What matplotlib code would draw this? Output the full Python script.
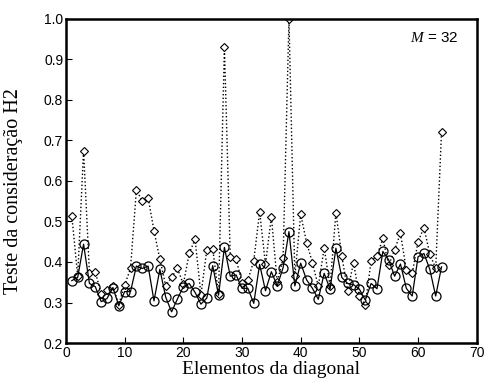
import matplotlib
matplotlib.use("Agg")
import matplotlib.pyplot as plt
import numpy as np

elements = list(range(1, 65))
circles = [0.354, 0.362, 0.444, 0.347, 0.339, 0.302, 0.310, 0.337, 0.292, 0.327,
           0.327, 0.390, 0.384, 0.390, 0.304, 0.382, 0.313, 0.277, 0.309, 0.339,
           0.347, 0.325, 0.296, 0.311, 0.391, 0.318, 0.436, 0.365, 0.368, 0.335,
           0.335, 0.298, 0.394, 0.329, 0.376, 0.341, 0.386, 0.475, 0.341, 0.397,
           0.356, 0.335, 0.308, 0.372, 0.333, 0.434, 0.362, 0.347, 0.344, 0.333,
           0.306, 0.347, 0.334, 0.426, 0.405, 0.365, 0.395, 0.335, 0.316, 0.413,
           0.421, 0.382, 0.316, 0.388]
diamonds = [0.514, 0.365, 0.675, 0.374, 0.376, 0.321, 0.331, 0.340, 0.295, 0.343,
            0.384, 0.578, 0.550, 0.559, 0.477, 0.407, 0.341, 0.362, 0.384, 0.345,
            0.421, 0.456, 0.319, 0.430, 0.433, 0.320, 0.931, 0.412, 0.407, 0.349,
            0.355, 0.403, 0.524, 0.394, 0.512, 0.350, 0.409, 1.000, 0.365, 0.518,
            0.448, 0.398, 0.340, 0.435, 0.340, 0.522, 0.415, 0.329, 0.398, 0.316,
            0.294, 0.403, 0.415, 0.458, 0.392, 0.430, 0.471, 0.380, 0.372, 0.450,
            0.485, 0.420, 0.384, 0.722]

xticks = [0, 10, 20, 30, 40, 50, 60, 70]
yticks = [0.2, 0.3, 0.4, 0.5, 0.6, 0.7, 0.8, 0.9, 1.0]

plt.rcParams['mathtext.fontset'] = 'custom'
plt.rcParams['mathtext.it'] = 'Liberation Serif:italic'
plt.rcParams['mathtext.rm'] = 'Liberation Serif'

fig = plt.figure(figsize=(4.85, 3.85), dpi=100)
ax = fig.add_axes([0.136, 0.109, 0.847, 0.842])

ax.plot(elements, diamonds, linestyle=':', color='black', linewidth=1.0,
        marker='D', markersize=4, markerfacecolor='white', markeredgecolor='black',
        markeredgewidth=0.8, zorder=2)
ax.plot(elements, circles, linestyle='-', color='black', linewidth=0.9,
        marker='o', markersize=6.5, markerfacecolor='none', markeredgecolor='black',
        markeredgewidth=0.9, zorder=3)

ax.set_xlim(0, 70)
ax.set_ylim(0.2, 1.0)
ax.set_xticks(xticks)
ax.set_yticks(yticks)
ax.set_xticklabels([str(t) for t in xticks], fontfamily='Liberation Sans', fontsize=10)
ax.set_yticklabels([f"{t:.1f}" for t in yticks], fontfamily='Liberation Sans', fontsize=10)
ax.tick_params(direction='in', length=4, width=0.8, top=False, right=False, pad=2)
for s in ax.spines.values():
    s.set_linewidth(1.8)

ax.set_xlabel('Elementos da diagonal', fontfamily='Liberation Serif', fontsize=14, labelpad=1)
ax.set_ylabel('Teste da consideração H2', fontfamily='Liberation Serif', fontsize=14.5)
ax.yaxis.set_label_coords(-0.105, 0.47)

ax.text(0.955, 0.94, r'$M$ = 32', transform=ax.transAxes, ha='right', va='center',
        fontfamily='Liberation Sans', fontsize=11)

fig.savefig('out.png', dpi=100)
